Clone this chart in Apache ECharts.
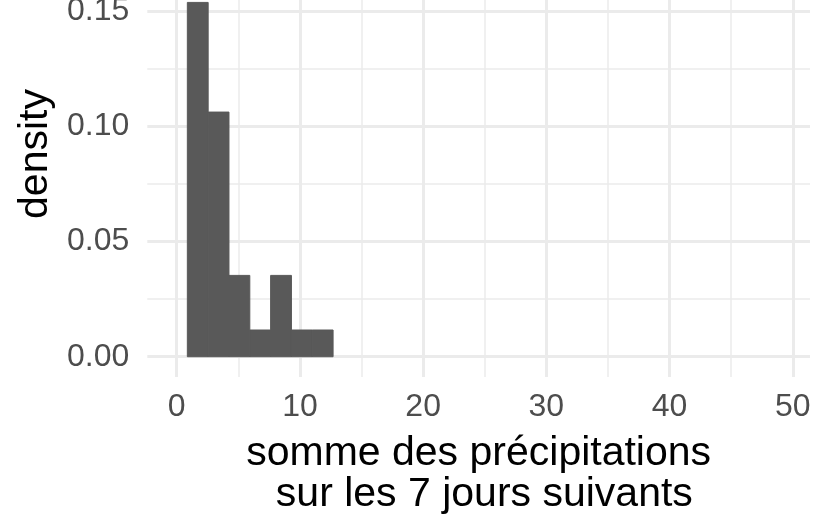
<!DOCTYPE html>
<html>
<head>
<meta charset="utf-8">
<script src="https://cdn.jsdelivr.net/npm/echarts@6/dist/echarts.min.js"></script>
<style>
html,body{margin:0;padding:0;background:#fff;}
#chart{width:819px;height:519px;}
</style>
</head>
<body>
<div id="chart"></div>
<script>
// Histogram bins (x = somme des précipitations) and their densities
const binStarts = [0.86, 2.55, 4.24, 5.93, 7.62, 9.31, 11.0];
const binEnds   = [2.55, 4.24, 5.93, 7.62, 9.31, 11.0, 12.69];
const densities = [0.1538, 0.1062, 0.0353, 0.0116, 0.0353, 0.0116, 0.0116];

// Tick values
const xTicks = [0, 10, 20, 30, 40, 50];
const xMinorTicks = [5, 15, 25, 35, 45];
const yTicks = [0, 0.05, 0.10, 0.15];
const yMinorTicks = [0.025, 0.075, 0.125, 0.175];

const xTitle = 'somme des précipitations\n sur les 7 jours suivants';
const yTitle = 'density';

const FONT = '"Liberation Sans", Arial, sans-serif';
const xMin = -2.39, xMax = 51.4;
const yMin = -0.0088, yMax = 0.1848;

const barData = binStarts.map((s, i) => [s, binEnds[i], densities[i]]);

const chart = echarts.init(document.getElementById('chart'), null, {renderer: 'canvas'});
chart.setOption({
  backgroundColor: '#ffffff',
  animation: false,
  grid: {left: 147.3, right: 9, top: -69, bottom: 142, containLabel: false, outerBoundsMode: 'none'},
  xAxis: [
    {
      type: 'value', min: xMin, max: xMax,
      axisLine: {show: false},
      axisTick: {show: false, customValues: xTicks},
      axisLabel: {customValues: xTicks, fontSize: 32, color: '#4D4D4D', margin: 14, fontFamily: FONT},
      splitLine: {show: true, lineStyle: {color: '#EBEBEB', width: 3}},
      name: xTitle, nameLocation: 'middle', nameGap: 56,
      nameTextStyle: {fontSize: 41, color: '#000000', lineHeight: 41, fontFamily: FONT}
    },
    {
      type: 'value', min: xMin, max: xMax, position: 'bottom',
      axisLine: {show: false},
      axisTick: {show: false, customValues: xMinorTicks},
      axisLabel: {show: false},
      splitLine: {show: true, lineStyle: {color: '#EBEBEB', width: 1.5}}
    }
  ],
  yAxis: [
    {
      type: 'value', min: yMin, max: yMax,
      axisLine: {show: false},
      axisTick: {show: false, customValues: yTicks},
      axisLabel: {customValues: yTicks, fontSize: 32, color: '#4D4D4D', margin: 18, fontFamily: FONT,
                  formatter: v => v.toFixed(2)},
      splitLine: {show: true, lineStyle: {color: '#EBEBEB', width: 3}},
      name: yTitle, nameLocation: 'middle', nameGap: 90,
      nameTextStyle: {fontSize: 41, color: '#000000', fontFamily: FONT}
    },
    {
      type: 'value', min: yMin, max: yMax, position: 'left',
      axisLine: {show: false},
      axisTick: {show: false, customValues: yMinorTicks},
      axisLabel: {show: false},
      splitLine: {show: true, lineStyle: {color: '#EBEBEB', width: 1.5}}
    }
  ],
  series: [{
    type: 'custom',
    xAxisIndex: 0, yAxisIndex: 0,
    encode: {x: [0, 1], y: 2},
    data: barData,
    renderItem: function (params, api) {
      const p0 = api.coord([api.value(0), api.value(2)]);
      const p1 = api.coord([api.value(1), 0]);
      return {
        type: 'rect',
        shape: {x: p0[0], y: p0[1], width: p1[0] - p0[0], height: p1[1] - p0[1]},
        style: {fill: '#595959', stroke: '#595959', lineWidth: 1, opacity: 1}
      };
    }
  }]
});
</script>
</body>
</html>
